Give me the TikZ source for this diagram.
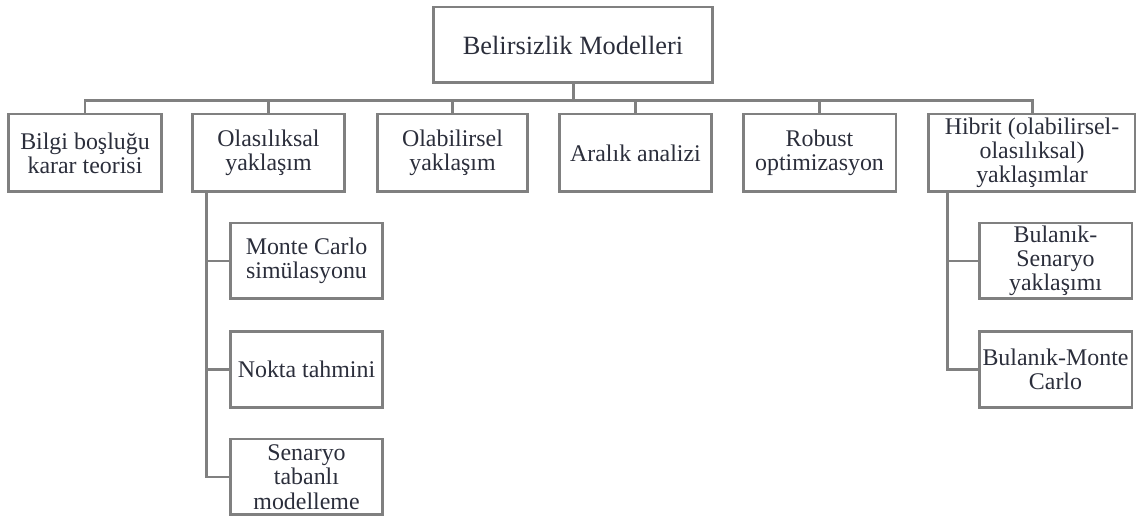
\documentclass[tikz,border=0pt]{standalone}
\usepackage{fontspec}
\setmainfont{Liberation Serif}
\usetikzlibrary{calc}
\definecolor{MyGrey}{rgb}{0.5,0.5,0.5}
\definecolor{MyInk}{rgb}{0.17,0.18,0.23}
\tikzset{
  box/.style={draw=MyGrey, line width=1.7pt, text=MyInk, align=center,
    minimum width=3.06cm, minimum height=1.56cm, inner sep=0pt,
    font=\fontsize{13.6}{13.8}\selectfont},
  subbox/.style={box, minimum height=1.52cm},
  link/.style={draw=MyGrey, line width=1.7pt},
}

\begin{document}
\begin{tikzpicture}[x=0.02cm, y=-0.02cm]
        \useasboundingbox (0,0) rectangle (1136,516);
        % root
        \node [box, minimum width=5.6cm, minimum height=1.52cm, font=\fontsize{15}{15}\selectfont] (root) at (573,45) {Belirsizlik Modelleri};
        % first level
        \node [box, minimum width=3.08cm] (bilgi) at (85,153) {Bilgi boşluğu\\karar teorisi};
        \node [box] (olasilik) at (268.5,153) {Olasılıksal\\yaklaşım};
        \node [box, minimum width=3.02cm] (olabilir) at (452.5,153) {Olabilirsel\\yaklaşım};
        \node [box] (aralik) at (635.5,153) {Aralık analizi};
        \node [box] (robust) at (819.5,153) {Robust\\optimizasyon};
        \node [box, minimum width=4.16cm] (hibrit) at (1032,153) {Hibrit (olabilirsel-\\olasılıksal)\\yaklaşımlar};
        % second level
        \node [subbox] (monte) at (306.5,261) {Monte Carlo\\simülasyonu};
        \node [subbox] (nokta) at (306.5,369.5) {Nokta tahmini};
        \node [subbox] (senaryo) at (306.5,477) {Senaryo\\tabanlı\\modelleme};
        \node [subbox] (bulsen) at (1055.5,261) {Bulanık-\\Senaryo\\yaklaşımı};
        \node [subbox] (bulmc) at (1055.5,369.5) {Bulanık-Monte\\Carlo};
        % connectors
        \foreach \n in {bilgi,olasilik,olabilir,aralik,robust,hibrit}
          \draw [link] (root.south) -- ++(0,16) -| (\n.north);
        \foreach \n in {monte,nokta,senaryo}
          \draw [link] ([xshift=0.32cm]olasilik.south west) |- (\n.west);
        \foreach \n in {bulsen,bulmc}
          \draw [link] ([xshift=0.42cm]hibrit.south west) |- (\n.west);
      \end{tikzpicture}
\end{document}
